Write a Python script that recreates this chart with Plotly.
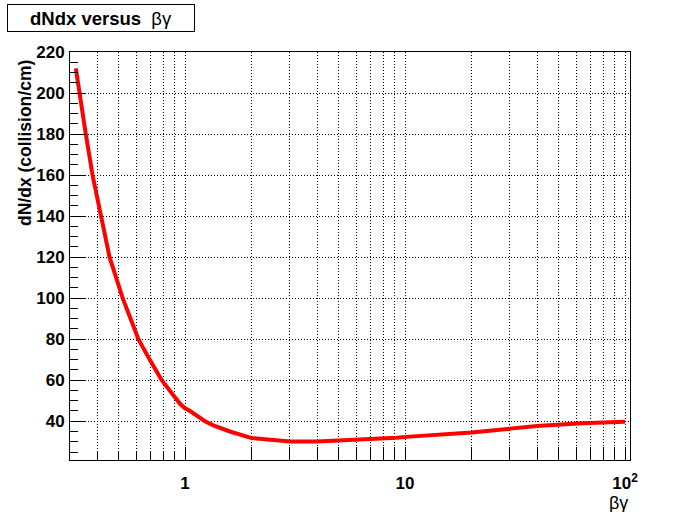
import plotly.graph_objects as go

# data
beta_gamma = [0.319, 0.333, 0.354, 0.380, 0.414, 0.454, 0.521, 0.614, 0.693, 0.784,
              0.949, 1.0, 1.046, 1.233, 1.345, 1.6, 2.01, 3.0, 3.98, 5.06, 6.36,
              9.15, 10.5, 20.1, 30.0, 39.8, 63.7, 100.0]
dndx = [212, 200, 180, 160, 140, 120, 100, 80, 69.8, 60,
        48.5, 46.3, 45.2, 40.0, 38.0, 35.0, 31.8, 30.1, 30.1, 30.6, 30.9,
        32.0, 32.5, 34.5, 36.4, 37.7, 39.0, 39.7]

x_major = [1, 2, 3, 4, 5, 6, 7, 8, 9, 10, 20, 30, 40, 50, 60, 70, 80, 90, 100]
x_major_text = ["1"] + [""] * 8 + ["10"] + [""] * 8 + ["10<sup>2</sup>"]
x_minor = [0.4, 0.5, 0.6, 0.7, 0.8, 0.9]
y_major = [40, 60, 80, 100, 120, 140, 160, 180, 200, 220]

W, H = 700, 512
L, R, T, B = 70, 70, 52, 52
pw, ph = W - L - R, H - T - B

def px(x):
    return (x - L) / pw

def py(y):
    return (H - B - y) / ph

fig = go.Figure()
fig.add_trace(go.Scatter(x=beta_gamma, y=dndx, mode="lines",
                         line=dict(color="#ff0000", width=4),
                         showlegend=False))

lab_font = dict(family="Liberation Sans, Arial, sans-serif", size=17,
                color="black", weight="bold")
gdash = "1px,2px"

fig.update_layout(
    width=W, height=H,
    margin=dict(l=L, r=R, t=T, b=B),
    paper_bgcolor="white", plot_bgcolor="white",
    xaxis=dict(
        type="log", range=[-0.5227, 2.0227],
        tickmode="array", tickvals=x_major, ticktext=x_major_text,
        ticks="inside", ticklen=13, tickwidth=1, tickcolor="black",
        showline=True, linecolor="black", linewidth=1, mirror=True,
        showgrid=True, gridcolor="black", gridwidth=1, griddash=gdash,
        zeroline=False, tickfont=lab_font, ticklabelstandoff=8,
        minor=dict(tickmode="array", tickvals=x_minor, ticks="inside",
                   ticklen=8, tickcolor="black", showgrid=True,
                   gridcolor="black", gridwidth=1, griddash=gdash),
    ),
    yaxis=dict(
        range=[21.1, 220],
        tickmode="array", tickvals=y_major,
        ticks="inside", ticklen=16, tickwidth=1, tickcolor="black",
        showline=True, linecolor="black", linewidth=1, mirror=True,
        showgrid=True, gridcolor="black", gridwidth=1, griddash=gdash,
        zeroline=False, tickfont=lab_font, ticklabelstandoff=1,
        minor=dict(dtick=5, tick0=0, ticks="inside", ticklen=8,
                   tickcolor="black", showgrid=False),
    ),
    annotations=[
        dict(text="<b>dNdx versus</b>  βγ", xref="paper", yref="paper",
             x=px(7), y=py(4), xanchor="left", yanchor="top",
             showarrow=False, width=182, height=22, borderpad=2,
             bordercolor="black", borderwidth=1, bgcolor="white",
             font=dict(family="Liberation Sans, Arial, sans-serif",
                       size=18.5, color="black")),
        dict(text="dN/dx (collision/cm)", xref="paper", yref="paper",
             x=px(25), y=py(58), xanchor="center", yanchor="top",
             textangle=-90, showarrow=False,
             font=dict(family="Liberation Sans, Arial, sans-serif",
                       size=17.5, color="black", weight="bold")),
        dict(text="βγ", xref="paper", yref="paper",
             x=px(630), y=py(503), xanchor="right", yanchor="middle",
             showarrow=False,
             font=dict(family="Liberation Sans, Arial, sans-serif",
                       size=18, color="black")),
    ],
)

fig.write_html("out.html",
               config={"displayModeBar": False},
               post_script="document.body.style.margin='0';"
                           "document.body.style.overflow='hidden';")
